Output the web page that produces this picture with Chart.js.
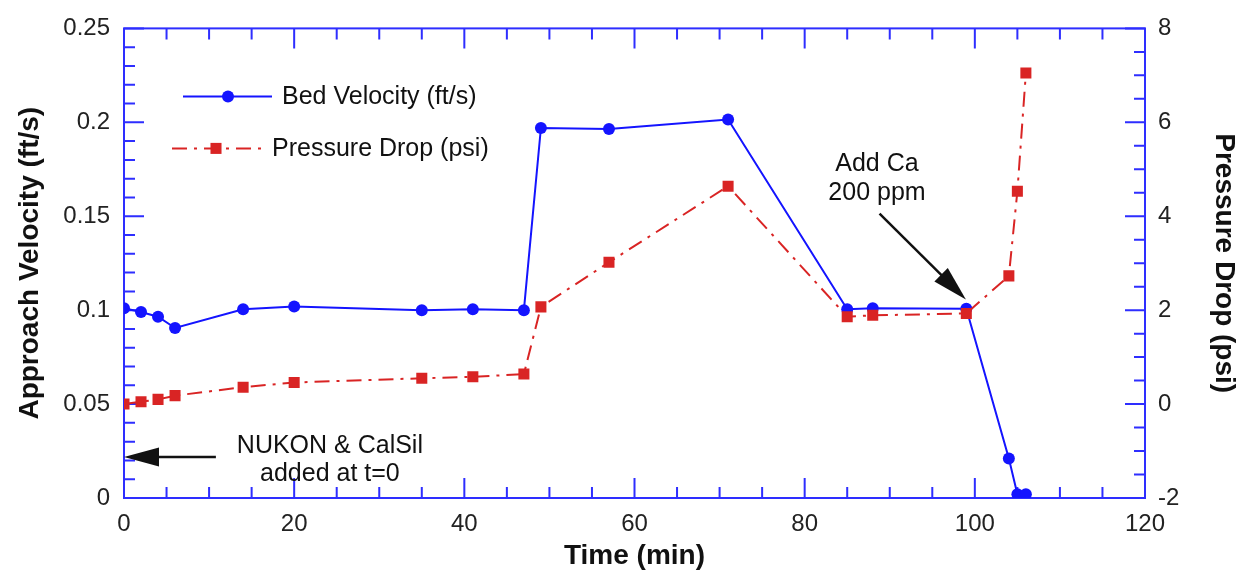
<!DOCTYPE html>
<html>
<head>
<meta charset="utf-8">
<script src="https://cdn.jsdelivr.net/npm/chart.js@4.4.1/dist/chart.umd.min.js"></script>
<style>
  html, body { margin: 0; padding: 0; background: #fff; }
  #chart { display: block; }
</style>
</head>
<body>
<canvas id="chart" width="1241" height="573"></canvas>
<script>
// values
const time_min = [0, 2, 4, 6, 14, 20, 35, 41, 47, 49, 57, 71, 85, 88, 99, 104, 105, 106];
const bed_velocity = [0.101, 0.099, 0.0965, 0.0905, 0.1005, 0.102, 0.1, 0.1005, 0.1, 0.197, 0.1965, 0.2015, 0.1005, 0.101, 0.1008, 0.021, 0.002, 0.002];
const pressure_drop = [0, 0.05, 0.1, 0.18, 0.36, 0.46, 0.55, 0.58, 0.64, 2.07, 3.02, 4.64, 1.86, 1.89, 1.93, 2.73, 4.53, 7.05];

const time_ticks = [0, 20, 40, 60, 80, 100, 120];
const velocity_ticks = [0, 0.05, 0.1, 0.15, 0.2, 0.25];
const pressure_ticks = [-2, 0, 2, 4, 6, 8];

// notes on the plot, in data units (x = min, y = ft/s)
const note_lines = [
  { text: "NUKON & CalSil", x: 24.2, y: 0.0277 },
  { text: "added at t=0", x: 24.2, y: 0.0128 },
  { text: "Add Ca", x: 88.5, y: 0.1777 },
  { text: "200 ppm", x: 88.5, y: 0.1622 },
];
const note_arrows = [
  { from: [10.8, 0.0218], to: [0, 0.0218] },
  { from: [88.8, 0.1514], to: [98.95, 0.1057] },
];

const BLUE = "#1414ff";
const AXIS_BLUE = "#2e2eff";
const RED = "#d92424";
const FONT = "'Liberation Sans', Arial, sans-serif";
const RED_DASH = [15, 7, 3, 7];

const MAJOR_LEN = 20;
const MINOR_LEN = 11;

function fixedTicks(values) {
  return function (scale) {
    scale.ticks = values.map((v) => ({ value: v }));
  };
}

function drawTicks(ctx, scale, min, max, minor, majorEvery, draw) {
  const n = Math.round((max - min) / minor);
  for (let i = 0; i <= n; i++) {
    const px = scale.getPixelForValue(min + i * minor);
    draw(px, i % majorEvery === 0 ? MAJOR_LEN : MINOR_LEN);
  }
}

function drawArrow(ctx, x0, y0, x1, y1) {
  const ang = Math.atan2(y1 - y0, x1 - x0);
  const c = Math.cos(ang), s = Math.sin(ang);
  const hl = 35, hw = 9.5;
  const bx = x1 - hl * c, by = y1 - hl * s;
  ctx.beginPath();
  ctx.moveTo(x0, y0);
  ctx.lineTo(bx + 2 * c, by + 2 * s);
  ctx.stroke();
  ctx.beginPath();
  ctx.moveTo(x1, y1);
  ctx.lineTo(bx - hw * s, by + hw * c);
  ctx.lineTo(bx + hw * s, by - hw * c);
  ctx.closePath();
  ctx.fill();
}

// frame with inward ticks on all four sides
const framePlugin = {
  id: "frame",
  beforeDatasetsDraw(chart) {
    const { ctx, chartArea: a, scales } = chart;
    ctx.save();
    ctx.strokeStyle = AXIS_BLUE;
    ctx.lineWidth = 2;
    ctx.beginPath();
    drawTicks(ctx, scales.x, 0, 120, 5, 4, (px, len) => {
      ctx.moveTo(px, a.bottom);
      ctx.lineTo(px, a.bottom - len);
      ctx.moveTo(px, a.top);
      ctx.lineTo(px, a.top + len);
    });
    drawTicks(ctx, scales.y, 0, 0.25, 0.01, 5, (py, len) => {
      ctx.moveTo(a.left, py);
      ctx.lineTo(a.left + len, py);
    });
    drawTicks(ctx, scales.y1, -2, 8, 0.5, 4, (py, len) => {
      ctx.moveTo(a.right, py);
      ctx.lineTo(a.right - len, py);
    });
    ctx.stroke();
    ctx.strokeRect(a.left, a.top, a.right - a.left, a.bottom - a.top);
    ctx.restore();
  },
  afterDatasetsDraw(chart) {
    const { ctx, chartArea: a, scales } = chart;
    ctx.save();

    // notes
    ctx.fillStyle = "#111";
    ctx.strokeStyle = "#111";
    ctx.lineWidth = 2.5;
    ctx.font = "25px " + FONT;
    ctx.textAlign = "center";
    ctx.textBaseline = "middle";
    note_lines.forEach((n) => {
      ctx.fillText(n.text, scales.x.getPixelForValue(n.x), scales.y.getPixelForValue(n.y));
    });
    note_arrows.forEach((ar) => {
      drawArrow(
        ctx,
        scales.x.getPixelForValue(ar.from[0]),
        scales.y.getPixelForValue(ar.from[1]),
        scales.x.getPixelForValue(ar.to[0]),
        scales.y.getPixelForValue(ar.to[1])
      );
    });

    // legend
    const ds = chart.data.datasets;
    const bx = a.left, by = a.top;
    ctx.textAlign = "left";
    ctx.fillStyle = "#111";
    // bed velocity
    ctx.strokeStyle = ds[0].borderColor;
    ctx.lineWidth = 2;
    ctx.beginPath();
    ctx.moveTo(bx + 59, by + 68);
    ctx.lineTo(bx + 148, by + 68);
    ctx.stroke();
    ctx.fillStyle = ds[0].backgroundColor;
    ctx.beginPath();
    ctx.arc(bx + 104, by + 68, ds[0].pointRadius, 0, Math.PI * 2);
    ctx.fill();
    ctx.fillStyle = "#111";
    ctx.fillText(ds[0].label, bx + 158, by + 69);
    // pressure drop
    ctx.strokeStyle = ds[1].borderColor;
    ctx.setLineDash(ds[1].borderDash);
    ctx.beginPath();
    ctx.moveTo(bx + 48, by + 120);
    ctx.lineTo(bx + 138, by + 120);
    ctx.stroke();
    ctx.setLineDash([]);
    ctx.fillStyle = ds[1].backgroundColor;
    const half = ds[1].pointRadius * Math.SQRT1_2;
    ctx.fillRect(bx + 92 - half, by + 120 - half, 2 * half, 2 * half);
    ctx.fillStyle = "#111";
    ctx.fillText(ds[1].label, bx + 148, by + 121);

    ctx.restore();
  },
};

new Chart(document.getElementById("chart"), {
  type: "scatter",
  data: {
    datasets: [
      {
        label: "Bed Velocity (ft/s)",
        data: time_min.map((t, i) => ({ x: t, y: bed_velocity[i] })),
        yAxisID: "y",
        showLine: true,
        borderColor: BLUE,
        backgroundColor: BLUE,
        borderWidth: 2,
        pointStyle: "circle",
        pointRadius: 6,
        pointBorderWidth: 0,
        tension: 0,
        order: 2,
      },
      {
        label: "Pressure Drop (psi)",
        data: time_min.map((t, i) => ({ x: t, y: pressure_drop[i] })),
        yAxisID: "y1",
        showLine: true,
        borderColor: RED,
        backgroundColor: RED,
        borderWidth: 2,
        borderDash: RED_DASH,
        pointStyle: "rect",
        pointRadius: 7.8,
        pointBorderWidth: 0,
        tension: 0,
        order: 1,
      },
    ],
  },
  options: {
    responsive: false,
    animation: false,
    events: [],
    layout: { padding: { top: 28, left: 0, right: 0, bottom: 0 } },
    plugins: {
      legend: { display: false },
      tooltip: { enabled: false },
    },
    scales: {
      x: {
        type: "linear",
        min: 0,
        max: 120,
        offset: false,
        afterBuildTicks: fixedTicks(time_ticks),
        afterFit: (scale) => { scale.height = 75; },
        grid: { display: false, drawTicks: false },
        border: { display: false },
        ticks: {
          padding: 12,
          color: "#222",
          font: { family: FONT, size: 24 },
          maxRotation: 0,
          autoSkip: false,
        },
        title: {
          display: true,
          text: "Time (min)",
          color: "#111",
          font: { family: FONT, size: 28, weight: "bold" },
          padding: { top: 0, bottom: 0 },
        },
      },
      y: {
        type: "linear",
        position: "left",
        min: 0,
        max: 0.25,
        afterBuildTicks: fixedTicks(velocity_ticks),
        afterFit: (scale) => { scale.width = 124; },
        grid: { display: false, drawTicks: false },
        border: { display: false },
        ticks: {
          padding: 14,
          color: "#222",
          font: { family: FONT, size: 24 },
          autoSkip: false,
          callback: (v) => String(+v.toFixed(3)),
        },
        title: {
          display: true,
          text: "Approach Velocity (ft/s)",
          color: "#111",
          font: { family: FONT, size: 28, weight: "bold" },
          padding: { top: 13, bottom: 0 },
        },
      },
      y1: {
        type: "linear",
        position: "right",
        min: -2,
        max: 8,
        afterBuildTicks: fixedTicks(pressure_ticks),
        afterFit: (scale) => { scale.width = 96; },
        grid: { display: false, drawTicks: false },
        border: { display: false },
        ticks: {
          padding: 13,
          color: "#222",
          font: { family: FONT, size: 24 },
          autoSkip: false,
        },
        title: {
          display: true,
          text: "Pressure Drop (psi)",
          color: "#111",
          font: { family: FONT, size: 28, weight: "bold" },
          padding: { top: 0, bottom: 0 },
        },
      },
    },
  },
  plugins: [framePlugin],
});
</script>
</body>
</html>
